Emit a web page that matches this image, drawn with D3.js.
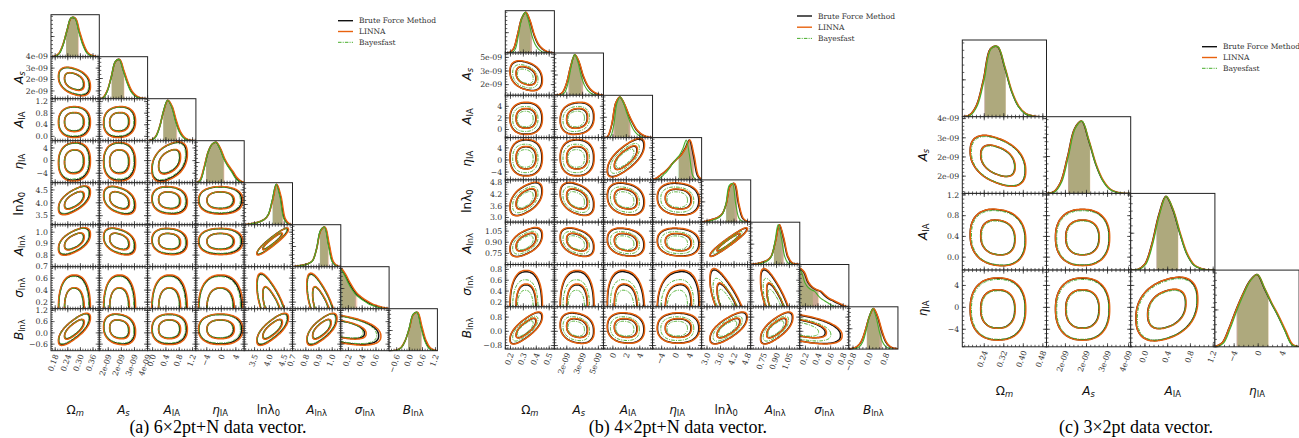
<!DOCTYPE html>
<html>
<head>
<meta charset="utf-8">
<script src="https://cdn.jsdelivr.net/npm/d3@7"></script>
<style>
  body { margin: 0; background: #fff; }
  svg { display: block; }
</style>
</head>
<body>
<svg id="fig" width="1299" height="438"></svg>
<script>
// ---- methods ----
const methods = ["Brute Force Method", "LINNA", "Bayesfast"];
const methodColors = ["#111111", "#e8620e", "#46ad2a"];
const shadeColors = ["#7f7f7f", "#e8620e", "#46ad2a"];
const shadeOpacity = [0.5, 0.25, 0.2];

// ---- panel (a): 6x2pt+N ----
const labelsA = [["Ω", "m"], ["A", "s"], ["A", "IA"], ["η", "IA"], ["lnλ", "0"], ["A", "lnλ"], ["σ", "lnλ"], ["B", "lnλ"]];
const rangeA = [[0.16, 0.39], [1.66e-9, 3.5e-9], [-0.15, 1.3], [-7, 6.3], [3.15, 4.78], [0.699, 1.065], [0.09, 0.79], [-0.95, 1.29]];
const ticksA = [[0.18, 0.24, 0.30, 0.36], [2e-9, 2.5e-9, 3e-9, 3.5e-9], [0, 0.4, 0.8, 1.2], [-4, 0, 4], [3.5, 4.0, 4.5], [0.7, 0.8, 0.9, 1.0], [0.2, 0.4, 0.6], [-0.6, 0, 0.6, 1.2]];
const tickLabelsA = [["0.18", "0.24", "0.30", "0.36"], ["2e-09", "2e-09", "3e-09", "4e-09"], ["0.0", "0.4", "0.8", "1.2"], ["−4", "0", "4"], ["3.5", "4.0", "4.5"], ["0.7", "0.8", "0.9", "1.0"], ["0.2", "0.4", "0.6"], ["−0.6", "0.0", "0.6", "1.2"]];
const densA = [
  [0, 0.01, 0.08, 0.3, 0.66, 0.96, 0.95, 0.62, 0.3, 0.1, 0.03, 0.005, 0],
  [0, 0.03, 0.2, 0.55, 0.92, 0.97, 0.7, 0.4, 0.18, 0.07, 0.02, 0.005, 0],
  [0, 0.02, 0.1, 0.35, 0.75, 1.0, 0.85, 0.5, 0.22, 0.08, 0.02, 0.005, 0],
  [0, 0.05, 0.35, 0.75, 0.95, 1.0, 0.85, 0.6, 0.42, 0.28, 0.12, 0.03, 0],
  [0, 0.01, 0.03, 0.05, 0.08, 0.13, 0.25, 0.6, 1.0, 0.7, 0.15, 0.02, 0],
  [0, 0.01, 0.03, 0.05, 0.08, 0.15, 0.45, 0.9, 0.98, 0.55, 0.12, 0.02, 0],
  [1.0, 0.85, 0.65, 0.48, 0.35, 0.27, 0.2, 0.14, 0.09, 0.06, 0.03, 0.01, 0],
  [0, 0, 0.02, 0.08, 0.25, 0.55, 0.9, 0.95, 0.6, 0.25, 0.07, 0.01, 0]
];
const shadeA = [[0.232, 0.29], [2.13e-9, 2.6e-9], [0.32, 0.72], [-4.2, 0.7], [4.11, 4.45], [0.907, 0.97], [0.09, 0.31], [-0.07, 0.55]];
const muA = [0.27, 2.42e-9, 0.5, -0.3, 4.1, 0.92, 0.1, 0.2];
const sdA = [0.03, 0.24e-9, 0.21, 2.4, 0.21, 0.045, 0.22, 0.32];
const rhoA = [
  [],
  [-0.35],
  [0.0, 0.05],
  [0.05, 0.0, 0.4],
  [0.6, -0.35, -0.1, 0.0],
  [0.55, -0.35, -0.1, 0.0, 0.93],
  [0.0, 0.0, 0.0, 0.0, -0.7, -0.7],
  [0.75, -0.15, 0.0, 0.0, 0.75, 0.7, -0.45]
];
const scaleA = [1, 1.04, 0.96];
const shiftA = [[0, 0], [0.05, -0.03], [-0.04, 0.04]];

// ---- panel (b): 4x2pt+N ----
const labelsB = labelsA;
const rangeB = [[0.16, 0.54], [0.9e-9, 5.25e-9], [-1.4, 5.9], [-6.6, 7.4], [2.76, 4.94], [0.6, 1.17], [0.11, 0.89], [-1.0, 1.38]];
const ticksB = [[0.2, 0.3, 0.4, 0.5], [2e-9, 3.4e-9, 4.8e-9], [0, 2, 4], [-4, 0, 4], [3.0, 3.6, 4.2, 4.8], [0.75, 0.9, 1.05], [0.2, 0.4, 0.6, 0.8], [-0.8, 0, 0.8]];
const tickLabelsB = [["0.2", "0.3", "0.4", "0.5"], ["2e-09", "3e-09", "5e-09"], ["0", "2", "4"], ["−4", "0", "4"], ["3.0", "3.6", "4.2", "4.8"], ["0.75", "0.90", "1.05"], ["0.2", "0.4", "0.6", "0.8"], ["−0.8", "0.0", "0.8"]];
const densB = [
  [0, 0.01, 0.1, 0.45, 0.85, 1.0, 0.8, 0.45, 0.22, 0.1, 0.04, 0.01, 0],
  [0, 0.01, 0.07, 0.3, 0.72, 1.0, 0.82, 0.48, 0.25, 0.12, 0.05, 0.015, 0],
  [0, 0.02, 0.3, 0.85, 1.0, 0.85, 0.6, 0.38, 0.2, 0.1, 0.04, 0.01, 0],
  [0, 0.04, 0.12, 0.2, 0.3, 0.42, 0.52, 0.62, 0.78, 0.98, 0.6, 0.1, 0],
  [0, 0.02, 0.05, 0.08, 0.12, 0.2, 0.45, 0.9, 0.95, 0.45, 0.1, 0.02, 0],
  [0, 0.01, 0.03, 0.06, 0.1, 0.2, 0.55, 0.98, 0.65, 0.2, 0.04, 0.01, 0],
  [0.95, 0.85, 0.6, 0.48, 0.42, 0.38, 0.28, 0.2, 0.15, 0.1, 0.05, 0.01, 0],
  [0, 0.02, 0.06, 0.18, 0.45, 0.8, 1.0, 0.8, 0.45, 0.18, 0.06, 0.02, 0]
];
const shadeB = [[0.266, 0.365], [2.15e-9, 3.43e-9], [0.09, 2.58], [0.9, 5.1], [3.85, 4.33], [0.87, 0.98], [0.11, 0.4], [-0.13, 0.6]];
const muB = [0.32, 2.9e-9, 1.9, 0.7, 3.95, 0.9, 0.12, 0.18];
const sdB = [0.05, 0.6e-9, 1.1, 2.4, 0.33, 0.075, 0.26, 0.34];
const rhoB = [
  [],
  [-0.3],
  [0.0, 0.1],
  [0.0, 0.0, 0.7],
  [0.5, -0.35, -0.2, -0.1],
  [0.5, -0.35, -0.2, -0.1, 0.95],
  [0.0, 0.0, -0.1, 0.1, -0.75, -0.75],
  [0.75, -0.2, -0.1, 0.0, 0.7, 0.7, -0.5]
];
const scaleB = [1, 1.03, 0.8];
const shiftB = [[0, 0], [0.03, 0.02], [-0.1, -0.08]];

// ---- panel (c): 3x2pt ----
const labelsC = [["Ω", "m"], ["A", "s"], ["A", "IA"], ["η", "IA"]];
const rangeC = [[0.15, 0.495], [1.55e-9, 3.55e-9], [-0.25, 1.23], [-7.2, 6.8]];
const ticksC = [[0.24, 0.32, 0.40, 0.48], [2e-9, 2.5e-9, 3e-9, 3.5e-9], [0, 0.4, 0.8, 1.2], [-4, 0, 4]];
const tickLabelsC = [["0.24", "0.32", "0.40", "0.48"], ["2e-09", "2e-09", "3e-09", "4e-09"], ["0.0", "0.4", "0.8", "1.2"], ["−4", "0", "4"]];
const densC = [
  [0, 0.02, 0.15, 0.5, 0.92, 0.95, 0.68, 0.35, 0.14, 0.04, 0.01, 0, 0],
  [0, 0.02, 0.15, 0.5, 0.88, 0.98, 0.72, 0.4, 0.18, 0.06, 0.015, 0, 0],
  [0, 0.01, 0.08, 0.35, 0.75, 1.0, 0.82, 0.5, 0.22, 0.07, 0.02, 0, 0],
  [0, 0.05, 0.25, 0.5, 0.72, 0.9, 0.98, 0.8, 0.6, 0.42, 0.22, 0.03, 0]
];
const shadeC = [[0.24, 0.327], [2.06e-9, 2.58e-9], [0.2, 0.58], [-3.6, 1.65]];
const muC = [0.295, 2.4e-9, 0.38, -0.3];
const sdC = [0.046, 0.26e-9, 0.22, 2.3];
const rhoC = [[], [-0.4], [-0.1, 0.0], [0.0, 0.0, 0.3]];
const scaleC = [1, 1.01, 0.97];
const shiftC = [[0, 0], [0.03, 0], [0.04, -0.03]];

const captions = ["(a) 6×2pt+N data vector.", "(b) 4×2pt+N data vector.", "(c) 3×2pt data vector."];

// 2D credible levels (68%, 95%) in sigma units
const levels = [1.515, 2.448];

const panels = [
  { labels: labelsA, range: rangeA, ticks: ticksA, tickLabels: tickLabelsA, dens: densA, shade: shadeA, mu: muA, sd: sdA, rho: rhoA, scale: scaleA, shift: shiftA,
    left: 51, top: 14.7, cw: 48.3, ch: 42, xlabY: 414, ylabX: 19, legend: [338, 20.7, 10.8], caption: 218 },
  { labels: labelsB, range: rangeB, ticks: ticksB, tickLabels: tickLabelsB, dens: densB, shade: shadeB, mu: muB, sd: sdB, rho: rhoB, scale: scaleB, shift: shiftB,
    left: 505.3, top: 10.7, cw: 49.08, ch: 42.3, xlabY: 414, ylabX: 467, legend: [797, 16, 11.2], caption: 678 },
  { labels: labelsC, range: rangeC, ticks: ticksC, tickLabels: tickLabelsC, dens: densC, shade: shadeC, mu: muC, sd: sdC, rho: rhoC, scale: scaleC, shift: shiftC,
    left: 962.3, top: 40, cw: 84.2, ch: 76.7, xlabY: 395, ylabX: 923, legend: [1202, 46.7, 10.8], caption: 1136 }
];

const svg = d3.select("#fig");
const defs = svg.append("defs");
let clipCount = 0;
function clipRect(x, y, w, h) {
  const id = "clip" + (clipCount++);
  defs.append("clipPath").attr("id", id)
    .append("rect").attr("x", x).attr("y", y).attr("width", Math.max(0, w)).attr("height", h);
  return `url(#${id})`;
}

const mainItalic = new Set(["A", "η", "σ", "B"]);
const subItalic = new Set(["m", "s"]);
function addLabel(text, part) {
  text.append("tspan").attr("font-style", mainItalic.has(part[0]) ? "italic" : "normal").text(part[0]);
  text.append("tspan").attr("font-size", "0.7em").attr("dy", "0.25em")
    .attr("font-style", subItalic.has(part[1]) ? "italic" : "normal").text(part[1]);
}

function minorTicks(ticks, dom) {
  const step = (ticks[1] - ticks[0]) / 5;
  const start = ticks[0] - Math.floor((ticks[0] - dom[0]) / step + 1e-6) * step;
  return d3.range(start, dom[1] + step * 1e-3, step);
}

// rounded (super-elliptical) confidence contour
const SQ = 0.85;
function contourPath(xs, ys, mx, my, sx, sy, rho, r) {
  const c2 = Math.sqrt(1 - rho * rho);
  const pts = d3.range(0, 2 * Math.PI, Math.PI / 60).map(t => {
    const c = Math.cos(t), s = Math.sin(t);
    const u = r * Math.sign(c) * Math.pow(Math.abs(c), SQ);
    const v = r * Math.sign(s) * Math.pow(Math.abs(s), SQ);
    return [xs(mx + sx * u), ys(my + sy * (rho * u + c2 * v))];
  });
  return d3.line().curve(d3.curveCardinalClosed.tension(0.2))(pts);
}

function drawTicks(g, scale, ticks, dom, side, x0, y0, w, h) {
  const major = ticks.filter(t => t >= dom[0] - 1e-12 && t <= dom[1] + 1e-12);
  const minor = minorTicks(ticks, dom).filter(t => t >= dom[0] && t <= dom[1]);
  const put = (vals, len) => vals.forEach(v => {
    const p = scale(v);
    let a;
    if (side === "bottom") a = [p, y0 + h, p, y0 + h - len];
    else if (side === "top") a = [p, y0, p, y0 + len];
    else if (side === "left") a = [x0, p, x0 + len, p];
    else a = [x0 + w, p, x0 + w - len, p];
    g.append("line").attr("x1", a[0]).attr("y1", a[1]).attr("x2", a[2]).attr("y2", a[3])
      .attr("stroke", "#222").attr("stroke-width", 0.7);
  });
  put(minor, 2);
  put(major, 3.6);
}

panels.forEach((P, pi) => {
  const n = P.labels.length;
  const g = svg.append("g");
  const xs = P.range.map((r, j) => d3.scaleLinear().domain(r).range([P.left + j * P.cw, P.left + (j + 1) * P.cw]));
  const ys = P.range.map((r, i) => d3.scaleLinear().domain(r).range([P.top + (i + 1) * P.ch, P.top + i * P.ch]));

  for (let i = 0; i < n; i++) {
    for (let j = 0; j <= i; j++) {
      const x0 = P.left + j * P.cw, y0 = P.top + i * P.ch;
      const cell = g.append("g");
      cell.append("rect").attr("x", x0).attr("y", y0).attr("width", P.cw).attr("height", P.ch).attr("fill", "#fff");
      const body = cell.append("g").attr("clip-path", clipRect(x0, y0, P.cw, P.ch));

      if (i === j) {
        const xsc = xs[i];
        const yd = d3.scaleLinear().domain([0, 1.04]).range([y0 + P.ch, y0]);
        const r = P.range[i];
        const m = P.dens[i].length - 1;
        const grid = P.dens[i].map((d, k) => [r[0] + k * (r[1] - r[0]) / m, d]);
        const curves = methods.map((name, mi) => {
          const tx = v => P.mu[i] + (v - P.mu[i]) * P.scale[mi] + P.shift[mi][0] * P.sd[i];
          return { mi, tx, pts: grid.map(([v, d]) => [xsc(tx(v)), yd(d)]) };
        });
        const area = d3.area().x(p => p[0]).y0(yd(0)).y1(p => p[1]).curve(d3.curveCatmullRom.alpha(0.5));
        const line = d3.line().x(p => p[0]).y(p => p[1]).curve(d3.curveCatmullRom.alpha(0.5));
        curves.forEach(c => {
          const lo = xsc(c.tx(P.shade[i][0])), hi = xsc(c.tx(P.shade[i][1]));
          body.append("path").attr("d", area(c.pts))
            .attr("fill", shadeColors[c.mi]).attr("fill-opacity", shadeOpacity[c.mi])
            .attr("clip-path", clipRect(lo, y0, hi - lo, P.ch));
        });
        curves.forEach(c => {
          body.append("path").attr("d", line(c.pts)).attr("fill", "none")
            .attr("stroke", methodColors[c.mi]).attr("stroke-width", c.mi === 2 ? 1.1 : 1.5);
        });
        drawTicks(cell, xsc, P.ticks[i], P.range[i], "bottom", x0, y0, P.cw, P.ch);
        drawTicks(cell, yd, [0, 0.5], [0, 1.04], "left", x0, y0, P.cw, P.ch);
      } else {
        methods.forEach((name, mi) => {
          const s = P.scale[mi];
          levels.forEach(lv => {
            body.append("path")
              .attr("d", contourPath(xs[j], ys[i],
                P.mu[j] + P.shift[mi][0] * P.sd[j], P.mu[i] + P.shift[mi][1] * P.sd[i],
                P.sd[j] * s, P.sd[i] * s, P.rho[i][j], lv))
              .attr("fill", "none")
              .attr("stroke", methodColors[mi])
              .attr("stroke-width", mi === 2 ? 1.0 : 1.5)
              .attr("stroke-dasharray", mi === 2 ? "3.5,1.2,1,1.2" : null);
          });
        });
        drawTicks(cell, xs[j], P.ticks[j], P.range[j], "bottom", x0, y0, P.cw, P.ch);
        drawTicks(cell, xs[j], P.ticks[j], P.range[j], "top", x0, y0, P.cw, P.ch);
        drawTicks(cell, ys[i], P.ticks[i], P.range[i], "left", x0, y0, P.cw, P.ch);
        drawTicks(cell, ys[i], P.ticks[i], P.range[i], "right", x0, y0, P.cw, P.ch);
      }
      cell.append("rect").attr("x", x0).attr("y", y0).attr("width", P.cw).attr("height", P.ch)
        .attr("fill", "none").attr("stroke", "#222").attr("stroke-width", 1);
    }
  }

  // tick labels
  const bottom = P.top + n * P.ch;
  for (let j = 0; j < n; j++) {
    P.ticks[j].forEach((t, k) => {
      if (t < P.range[j][0] - 1e-12 || t > P.range[j][1] + 1e-12) return;
      g.append("text")
        .attr("transform", `translate(${xs[j](t) + 1},${bottom + 4}) rotate(-70)`)
        .attr("text-anchor", "end").attr("dy", "0.35em")
        .attr("font-family", "DejaVu Serif").attr("font-size", 7.8).attr("fill", "#333")
        .text(P.tickLabels[j][k]);
    });
  }
  for (let i = 1; i < n; i++) {
    P.ticks[i].forEach((t, k) => {
      if (t < P.range[i][0] - 1e-12 || t > P.range[i][1] + 1e-12) return;
      g.append("text")
        .attr("x", P.left - 3).attr("y", ys[i](t)).attr("dy", "0.35em")
        .attr("text-anchor", "end")
        .attr("font-family", "DejaVu Serif").attr("font-size", 7.8).attr("fill", "#333")
        .text(P.tickLabels[i][k]);
    });
  }

  // axis labels
  for (let j = 0; j < n; j++) {
    const t = g.append("text").attr("x", P.left + (j + 0.5) * P.cw).attr("y", P.xlabY)
      .attr("text-anchor", "middle").attr("font-family", "DejaVu Sans").attr("font-size", 12).attr("fill", "#111");
    addLabel(t, P.labels[j]);
  }
  for (let i = 1; i < n; i++) {
    const t = g.append("text")
      .attr("transform", `translate(${P.ylabX + 4},${P.top + (i + 0.5) * P.ch}) rotate(-90)`)
      .attr("text-anchor", "middle").attr("font-family", "DejaVu Sans").attr("font-size", 12).attr("fill", "#111");
    addLabel(t, P.labels[i]);
  }

  // legend
  const [lx, ly, ldy] = P.legend;
  methods.forEach((name, mi) => {
    const yy = ly + mi * ldy;
    g.append("line").attr("x1", lx).attr("x2", lx + 15).attr("y1", yy).attr("y2", yy)
      .attr("stroke", methodColors[mi]).attr("stroke-width", mi === 2 ? 1.0 : 1.4)
      .attr("stroke-dasharray", mi === 2 ? "3.5,1.2,1,1.2" : null);
    g.append("text").attr("x", lx + 21).attr("y", yy).attr("dy", "0.35em")
      .attr("font-family", "DejaVu Serif").attr("font-size", 7.5).attr("fill", "#333").text(name);
  });

  // caption
  g.append("text").attr("x", P.caption).attr("y", 433)
    .attr("text-anchor", "middle").attr("font-family", "Liberation Serif").attr("font-size", 18)
    .attr("fill", "#000").text(captions[pi]);
});
</script>
</body>
</html>
